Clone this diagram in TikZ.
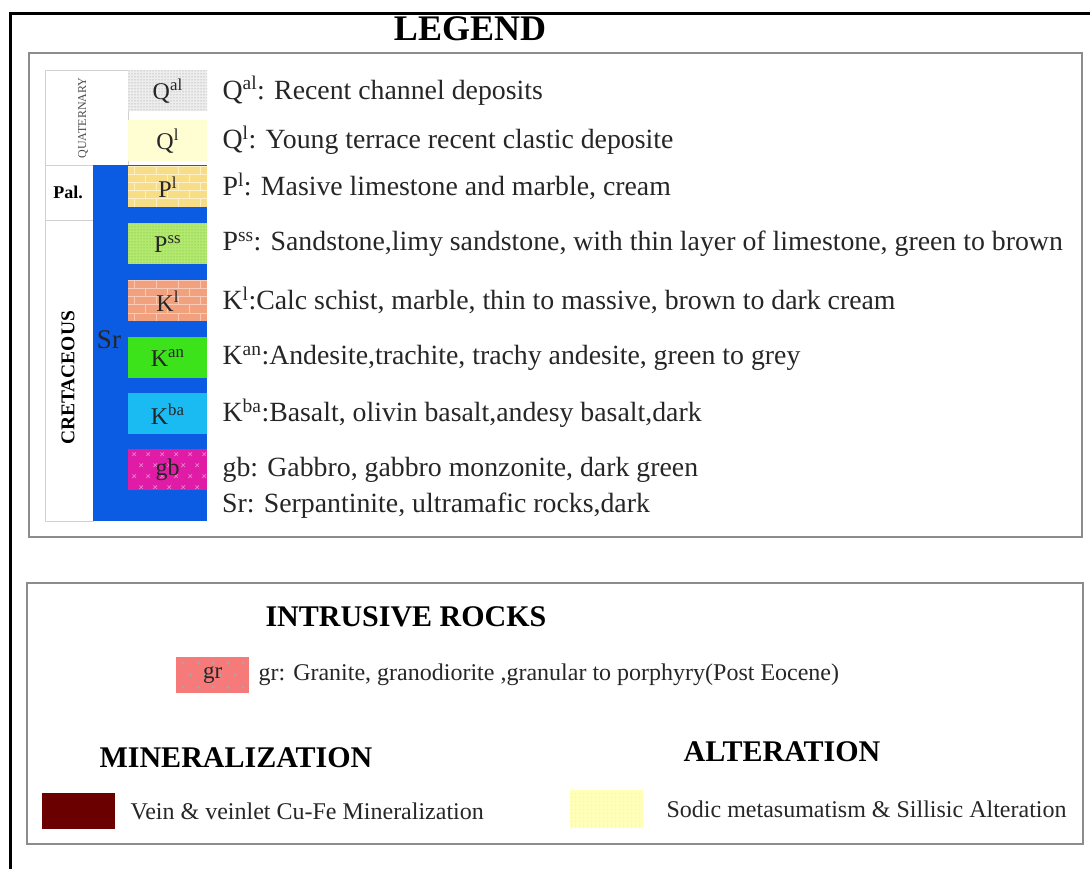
\documentclass[tikz,border=0pt]{standalone}
\usepackage{fontspec}
\setmainfont{Liberation Serif}
\usetikzlibrary{positioning,patterns,patterns.meta}
\definecolor{srblue}{HTML}{0B5BE3}
\definecolor{qalfill}{HTML}{EDEDED}
\definecolor{qlfill}{HTML}{FFFDD2}
\definecolor{plfill}{HTML}{F7DE86}
\definecolor{pssfill}{HTML}{B4EA6C}
\definecolor{klfill}{HTML}{F2A17E}
\definecolor{kanfill}{HTML}{3CE31A}
\definecolor{kbafill}{HTML}{1ABAF2}
\definecolor{gbfill}{HTML}{E01CA6}
\definecolor{grfill}{HTML}{F77A7A}
\definecolor{minred}{HTML}{6A0000}
\definecolor{altfill}{HTML}{FFFFB8}
\tikzset{
  panel/.style     = {draw=black!45,line width=1.5pt},
  erabox/.style    = {draw=black!18,line width=0.8pt},
  unit/.style      = {minimum width=79pt,minimum height=41pt,inner sep=0pt,
                      anchor=north west,font=\fontsize{24}{26}\selectfont,
                      text=black!85},
  swatch/.style    = {minimum width=73pt,minimum height=36pt,inner sep=0pt,
                      anchor=north west,font=\fontsize{23}{26}\selectfont,
                      text=black!85},
  desc/.style      = {anchor=west,inner sep=0pt,
                      font=\fontsize{27.8}{30}\selectfont,text=black!85},
  smalldesc/.style = {desc,font=\fontsize{24}{26}\selectfont},
  head/.style      = {font=\bfseries\fontsize{30}{32}\selectfont},
  stipple/.style   = {postaction={pattern={Dots[radius=0.5pt,distance=3pt]},
                      pattern color=#1}},
  brickwall/.style = {path picture={
      \foreach \r in {0,...,4}{
        \draw[#1,line width=1pt]
          ([yshift=-\r*8.2pt]path picture bounding box.north west) -- ++(79,0);
        \foreach \k in {0,...,3}
          \draw[#1,line width=1pt]
            ([shift={({mod(\r,2)*11+\k*22+6},{\r*8.2})}]path picture bounding box.north west)
            -- ++(0,8.2);
      }}},
  crossmarks/.style = {path picture={
      \foreach \i in {0,...,5}
        \foreach \j in {0,...,3}
          \draw[white!45!gbfill,line width=0.6pt]
            ([shift={({6+\i*14+mod(\j,2)*7},{5+\j*11})}]path picture bounding box.north west)
            +(-1.8,-1.8) -- +(1.8,1.8) +(-1.8,1.8) -- +(1.8,-1.8);
      }},
  dotgrid/.style = {path picture={
      \foreach \i in {0,...,4}
        \foreach \j in {0,...,2}
          \fill[black!35]
            ([shift={({7+\i*15+mod(\j,2)*7},{6+\j*12})}]path picture bounding box.north west)
            circle (1.6);
      }},
  % texture of each unit
  qalpat/.style  = {stipple=black!45},
  plainpat/.style = {},
  plpat/.style   = {brickwall=white!55!plfill},
  psspat/.style  = {stipple=green!45!black!60},
  klpat/.style   = {brickwall=white!45!klfill},
  gbpat/.style   = {crossmarks},
}

\begin{document}
\begin{tikzpicture}[x=1pt,y=-1pt]
  \useasboundingbox (0,0) rectangle (1090,869);
  % Outer frame (cut at right and bottom)
  \draw[line width=3pt] (1090,14) -- (10,14) -- (10,869);
  \node[font=\bfseries\fontsize{36}{38}\selectfont] (legend) at (470,29) {LEGEND};

  % ---- Upper panel: stratigraphic units ----
  \draw[panel] (29,53) rectangle (1082,537);
  \draw[erabox] (45,70) rectangle (128,165);
  \draw[erabox] (45,165) rectangle (93,220);
  \draw[erabox] (45,220) rectangle (93,521);
  \fill[srblue] (93,165) rectangle (207,521);
  \node[rotate=90,font=\fontsize{12}{14}\selectfont,text=black!70] (quat) at (83,118) {QUATERNARY};
  \node[font=\bfseries\fontsize{18}{20}\selectfont] (pal) at (68,192) {Pal.};
  \node[rotate=90,font=\bfseries\fontsize{19.5}{22}\selectfont] (cret) at (68,378) {CRETACEOUS};
  \node[font=\fontsize{27}{30}\selectfont,text=black!85] (sr) at (109,340) {Sr};

  % unit boxes and their descriptions
  \foreach \n/\t/\c/\s/\l/\d in {
      qal/70/qalfill/qalpat/{Q\textsuperscript{al}}/{Q\textsuperscript{al}: Recent channel deposits},
      ql/120/qlfill/plainpat/{Q\textsuperscript{l}}/{Q\textsuperscript{l}: Young terrace recent clastic deposite},
      pl/166/plfill/plpat/{P\textsuperscript{l}}/{P\textsuperscript{l}: Masive limestone and marble, cream},
      pss/223/pssfill/psspat/{P\textsuperscript{ss}}/{P\textsuperscript{ss}: Sandstone,limy sandstone, with thin layer of limestone, green to brown},
      kl/280/klfill/klpat/{K\textsuperscript{l}}/{K\textsuperscript{l}:Calc schist, marble, thin to massive, brown to dark cream},
      kan/337/kanfill/plainpat/{K\textsuperscript{an}}/{K\textsuperscript{an}:Andesite,trachite, trachy andesite, green to grey},
      kba/393/kbafill/plainpat/{K\textsuperscript{ba}}/{K\textsuperscript{ba}:Basalt, olivin basalt,andesy basalt,dark},
      gb/449/gbfill/gbpat/{gb}/{gb: Gabbro, gabbro monzonite, dark green}}{
    \node[unit,fill=\c,\s] (\n) at (128,\t) {\l};
    \node[desc,right=15pt of \n] (\n-desc) {\d};
  }
  \node[desc] (sr-desc) at (222,506) {Sr: Serpantinite, ultramafic rocks,dark};

  % ---- Lower panel ----
  \draw[panel] (27,583) rectangle (1083,844);
  \node[head] (intr) at (406,617) {INTRUSIVE ROCKS};
  \node[swatch,fill=grfill,dotgrid] (gr) at (176,657) {gr};
  \node[smalldesc,right=9pt of gr] (gr-desc)
      {gr: Granite, granodiorite ,granular to porphyry(Post Eocene)};

  \node[head] (minhead) at (236,758) {MINERALIZATION};
  \node[head] (althead) at (782,752) {ALTERATION};
  \node[swatch,fill=minred] (min) at (42,793) {};
  \node[smalldesc,right=15pt of min] (min-desc) {Vein \& veinlet Cu-Fe Mineralization};
  \node[swatch,minimum height=38pt,fill=altfill,
        postaction={pattern={Dots[radius=0.9pt,distance=4pt]},pattern color=yellow!70}]
      (alt) at (570,790) {};
  \node[smalldesc,right=23pt of alt] (alt-desc) {Sodic metasumatism \& Sillisic Alteration};
\end{tikzpicture}
\end{document}
